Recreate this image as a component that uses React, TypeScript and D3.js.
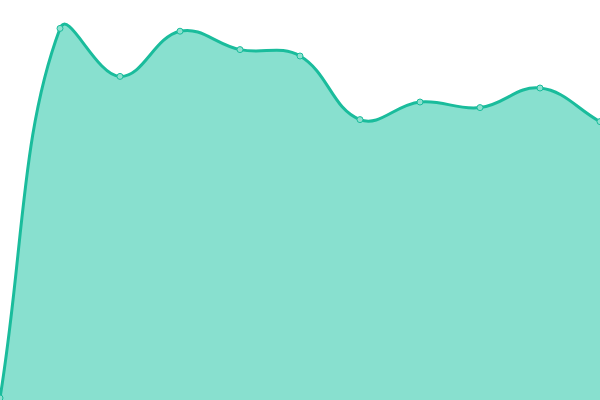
import { useEffect, useRef } from 'react'
import * as d3 from 'd3'

// one value per step
const steps = [0, 1, 2, 3, 4, 5, 6, 7, 8, 9, 10]
const values = [0.5, 92.9, 80.9, 92.2, 87.6, 86.0, 70.1, 74.5, 73.1, 78.0, 69.6]

// spline with distance-weighted control points (tension 0.4), as a d3 curve
function splineCurve(tension: number) {
    return (context: any) => {
        let pts: [number, number][] = [];
        let lineState = NaN;
        return {
            areaStart() { lineState = 0; },
            areaEnd() { lineState = NaN; },
            lineStart() { pts = []; },
            point(x: number, y: number) { pts.push([+x, +y]); },
            lineEnd() {
                const n = pts.length;
                if (n) {
                    if (lineState) context.lineTo(pts[0][0], pts[0][1]);
                    else context.moveTo(pts[0][0], pts[0][1]);
                    const ctrl = pts.map((cur, i) => {
                        const prev = pts[i - 1] || cur;
                        const next = pts[i + 1] || cur;
                        const d01 = Math.hypot(cur[0] - prev[0], cur[1] - prev[1]);
                        const d12 = Math.hypot(next[0] - cur[0], next[1] - cur[1]);
                        const sum = d01 + d12;
                        const fa = sum ? tension * d01 / sum : 0;
                        const fb = sum ? tension * d12 / sum : 0;
                        return {
                            before: [cur[0] - fa * (next[0] - prev[0]), cur[1] - fa * (next[1] - prev[1])],
                            after: [cur[0] + fb * (next[0] - prev[0]), cur[1] + fb * (next[1] - prev[1])],
                        };
                    });
                    for (let i = 0; i < n - 1; i++) {
                        const a = ctrl[i].after;
                        const b = ctrl[i + 1].before;
                        context.bezierCurveTo(a[0], a[1], b[0], b[1], pts[i + 1][0], pts[i + 1][1]);
                    }
                }
                if (lineState || (lineState !== 0 && n === 1)) context.closePath();
                lineState = 1 - lineState;
            },
        };
    };
}

export default function App() {
    const svgRef = useRef<SVGSVGElement>(null);

    useEffect(() => {
        if (!svgRef.current) return;
        const width = 600;
        const height = 400;
        const svg = d3.select(svgRef.current);
        svg.attr('width', width).attr('height', height);
        svg.selectAll('*').remove();

        const data = steps.map((s, i) => ({ s, v: values[i] }));

        const x = d3.scaleLinear().domain([0, 10]).range([0, width]);
        const y = d3.scaleLinear().domain([0, 100]).range([height, 0]);
        const curve = splineCurve(0.4) as any;

        const area = d3.area<{ s: number; v: number }>()
            .x(d => x(d.s))
            .y0(y(0))
            .y1(d => y(d.v))
            .curve(curve);

        const line = d3.line<{ s: number; v: number }>()
            .x(d => x(d.s))
            .y(d => y(d.v))
            .curve(curve);

        svg.append('path')
            .datum(data)
            .attr('fill', '#88e0cf')
            .attr('d', area);

        svg.append('path')
            .datum(data)
            .attr('fill', 'none')
            .attr('stroke', '#1abc9c')
            .attr('stroke-width', 3)
            .attr('d', line);

        svg.selectAll('.dot')
            .data(data)
            .enter()
            .append('circle')
            .attr('class', 'dot')
            .attr('cx', d => x(d.s))
            .attr('cy', d => y(d.v))
            .attr('r', 3)
            .attr('fill', '#8ee0cf')
            .attr('stroke', '#1abc9c')
            .attr('stroke-width', 1);
    }, []);

    return <svg ref={svgRef} style={{ position: 'fixed', top: 0, left: 0, display: 'block' }} />;
}
